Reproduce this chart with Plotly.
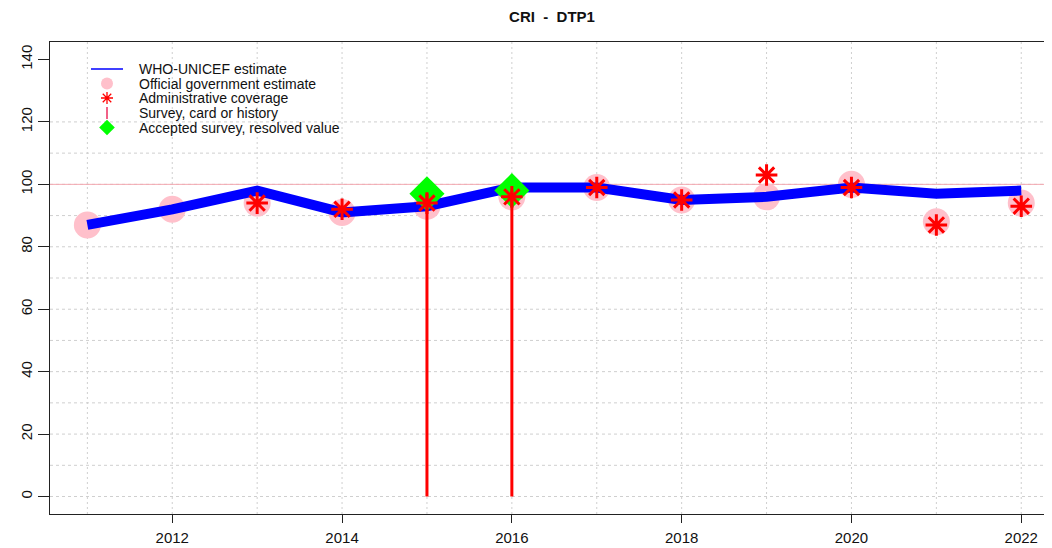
import plotly.graph_objects as go

# ---------------- data ----------------
years = [2011, 2012, 2013, 2014, 2015, 2016, 2017, 2018, 2019, 2020, 2021, 2022]
who_unicef = [87, 92, 98, 91, 93, 99, 99, 95, 96, 99, 97, 98]
official = [87, 92, 94, 91, 93, 96, 99, 95, 96, 100, 88, 94]
admin_years = [2013, 2014, 2015, 2016, 2017, 2018, 2019, 2020, 2021, 2022]
admin = [94, 92, 94, 96, 99, 95, 103, 99, 87, 93]
survey_years = [2015, 2016]
survey = [97, 98]
accepted_years = [2015, 2016]
accepted = [97, 98]

x_tick_vals = [2012, 2014, 2016, 2018, 2020, 2022]
y_tick_vals = [0, 20, 40, 60, 80, 100, 120, 140]
x_grid = years
y_grid = [0, 10, 20, 30, 40, 50, 60, 70, 80, 90, 100, 110, 120]
ref_line = 100

legend_labels = ["WHO-UNICEF estimate", "Official government estimate",
                 "Administrative coverage", "Survey, card or history",
                 "Accepted survey, resolved value"]

FONT = "Liberation Sans, Arial, Helvetica, sans-serif"
OFF = 8  # page body margin of the html page

fig = go.Figure()

# official government estimate (pink circles, drawn first)
fig.add_trace(go.Scatter(x=years, y=official, mode="markers",
                         marker=dict(symbol="circle", size=27, color="#FFC0CB"),
                         showlegend=False, hoverinfo="skip"))
# WHO-UNICEF estimate
fig.add_trace(go.Scatter(x=years, y=who_unicef, mode="lines",
                         line=dict(color="#0000FF", width=10),
                         showlegend=False, hoverinfo="skip"))
# accepted survey
fig.add_trace(go.Scatter(x=accepted_years, y=accepted, mode="markers",
                         marker=dict(symbol="diamond", size=27, color="#00FF00"),
                         showlegend=False, hoverinfo="skip"))
# survey vertical lines from 0
sx, sy = [], []
for xv, yv in zip(survey_years, survey):
    sx += [xv, xv, None]
    sy += [0, yv, None]
fig.add_trace(go.Scatter(x=sx, y=sy, mode="lines",
                         line=dict(color="#FF0000", width=3),
                         showlegend=False, hoverinfo="skip"))
# administrative coverage
fig.add_trace(go.Scatter(x=admin_years, y=admin, mode="markers",
                         marker=dict(symbol="asterisk-open", size=18, color="#FF0000",
                                     line=dict(color="#FF0000", width=3)),
                         showlegend=False, hoverinfo="skip"))

# ---------------- legend (drawn on a pixel overlay axis, page pixels) ----------------
L = dict(xaxis="x2", yaxis="y2", showlegend=False, hoverinfo="skip")
lx = 107
rows = [69, 83.5, 98, 113, 127.5]
fig.add_trace(go.Scatter(x=[91, 123], y=[rows[0], rows[0]], mode="lines",
                         line=dict(color="#0000FF", width=1.5), **L))
fig.add_trace(go.Scatter(x=[lx], y=[rows[1]], mode="markers",
                         marker=dict(symbol="circle", size=12, color="#FFC0CB"), **L))
fig.add_trace(go.Scatter(x=[lx], y=[rows[2]], mode="markers",
                         marker=dict(symbol="asterisk-open", size=10, color="#FF0000",
                                     line=dict(color="#FF0000", width=1.3)), **L))
fig.add_trace(go.Scatter(x=[lx, lx], y=[rows[3] - 6, rows[3] + 6], mode="lines",
                         line=dict(color="#F0507A", width=1.8), **L))
fig.add_trace(go.Scatter(x=[lx], y=[rows[4]], mode="markers",
                         marker=dict(symbol="diamond", size=12, color="#00FF00"), **L))

annotations = []
for r, lab in zip(rows, legend_labels):
    annotations.append(dict(x=137, y=r, xref="x2", yref="y2", text=lab,
                            showarrow=False, xanchor="left", yanchor="middle",
                            font=dict(family=FONT, size=14, color="#111111")))

# ---------------- gridlines & reference line ----------------
shapes = []
for gx in x_grid:
    shapes.append(dict(type="line", xref="x", yref="paper", x0=gx, x1=gx, y0=0, y1=1,
                       line=dict(color="#CFCFCF", width=1, dash="2px,3px"), layer="below"))
for gy in y_grid:
    shapes.append(dict(type="line", xref="paper", yref="y", x0=0, x1=1, y0=gy, y1=gy,
                       line=dict(color="#CFCFCF", width=1, dash="3px,3px"), layer="below"))
shapes.append(dict(type="line", xref="paper", yref="y", x0=0, x1=1, y0=ref_line, y1=ref_line,
                   line=dict(color="#F4A8B0", width=1), layer="below"))

W, H = 1052 - OFF, 548 - OFF
fig.update_layout(
    width=W, height=H,
    margin=dict(l=50 - OFF, r=0, t=42 - OFF, b=34, pad=0, autoexpand=False),
    template="none",
    paper_bgcolor="white", plot_bgcolor="white",
    font=dict(family=FONT, color="#111111"),
    title=dict(text="<b>CRI  -  DTP1</b>", x=(552 - OFF) / W, xanchor="center",
               y=1 - 3 / H, yanchor="top", pad=dict(t=0, b=0),
               font=dict(family=FONT, size=15, color="#111111")),
    showlegend=False,
    shapes=shapes,
    annotations=annotations,
    xaxis=dict(range=[2010.56, 2010.56 + 1002 / 84.9], tickvals=x_tick_vals,
               ticks="outside", ticklen=8, tickcolor="#222222", tickwidth=1,
               showline=True, linecolor="#222222", linewidth=1, mirror=True,
               showgrid=False, zeroline=False, ticklabelstandoff=2, automargin=False,
               tickfont=dict(family=FONT, size=15, color="#111111"), fixedrange=True),
    yaxis=dict(range=[-5.6, 145.6], tickvals=y_tick_vals, tickangle=-90,
               ticks="outside", ticklen=11, tickcolor="#222222", tickwidth=1,
               showline=True, linecolor="#222222", linewidth=1, mirror=True,
               showgrid=False, zeroline=False, ticklabelstandoff=0, automargin=False,
               tickfont=dict(family=FONT, size=15, color="#111111"), fixedrange=True),
    xaxis2=dict(overlaying="x", range=[50, 1052], visible=False, fixedrange=True),
    yaxis2=dict(overlaying="y", range=[514, 42], visible=False, fixedrange=True),
)

fig.write_html("out.html")
